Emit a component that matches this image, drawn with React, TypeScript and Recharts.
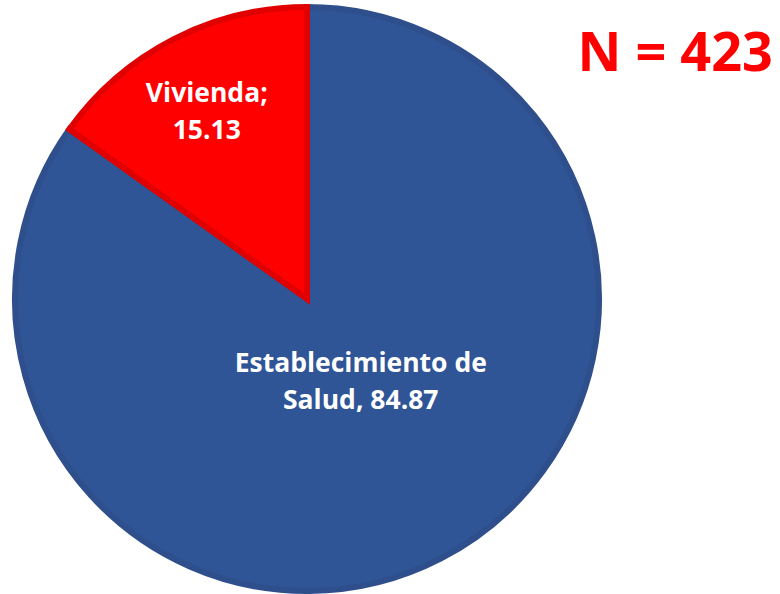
import { PieChart, Pie, Cell } from 'recharts';

const categories = ['Establecimiento de Salud', 'Vivienda'];
const percentages = [84.87, 15.13];
const sampleSize = 423;

const FILLS = ['#2F5597', '#FF0000'];
const STROKES = ['#2E4F8C', '#E00000'];

const data = categories.map((name, i) => ({ name, value: percentages[i] }));

const RADIAN = Math.PI / 180;
// how far from the centre each label sits, as a share of the radius, plus a small sideways nudge
const LABEL_SPOT = [0.32, 0.72];
const LABEL_NUDGE = [11, -4];

const renderLabel = (props: any) => {
  const { cx, cy, midAngle, outerRadius, index, name, value } = props;
  const r = outerRadius * LABEL_SPOT[index];
  const x = cx + r * Math.cos(-midAngle * RADIAN) + LABEL_NUDGE[index];
  const y = cy + r * Math.sin(-midAngle * RADIAN);
  const lines =
    index === 0
      ? ['Establecimiento de', `Salud, ${value.toFixed(2)}`]
      : [`${name};`, value.toFixed(2)];
  return (
    <text
      x={x}
      y={y}
      fill="#FFFFFF"
      textAnchor="middle"
      fontFamily="'Open Sans', sans-serif"
      fontWeight={700}
      fontSize={26.5}
    >
      <tspan x={x} dy={-10}>{lines[0]}</tspan>
      <tspan x={x} dy={37}>{lines[1]}</tspan>
    </text>
  );
};

export default function App() {
  return (
    <div style={{ position: 'absolute', left: 0, top: 0, width: 780, height: 594, background: '#fff' }}>
      <PieChart width={780} height={594} margin={{ top: 0, right: 0, bottom: 0, left: 0 }}>
        <Pie
          data={data}
          dataKey="value"
          nameKey="name"
          cx={307}
          cy={299}
          outerRadius={292}
          startAngle={90}
          endAngle={-270}
          labelLine={false}
          label={renderLabel}
          isAnimationActive={false}
        >
          {data.map((_, i) => (
            <Cell key={`cell-${i}`} fill={FILLS[i]} stroke={STROKES[i]} strokeWidth={6} />
          ))}
        </Pie>
      </PieChart>
      <div
        style={{
          position: 'absolute',
          right: 7,
          top: 23,
          color: '#FF0000',
          fontFamily: "'Open Sans', sans-serif",
          fontWeight: 700,
          fontSize: 54,
          lineHeight: 1,
          whiteSpace: 'nowrap',
        }}
      >
        N = {sampleSize}
      </div>
    </div>
  );
}
